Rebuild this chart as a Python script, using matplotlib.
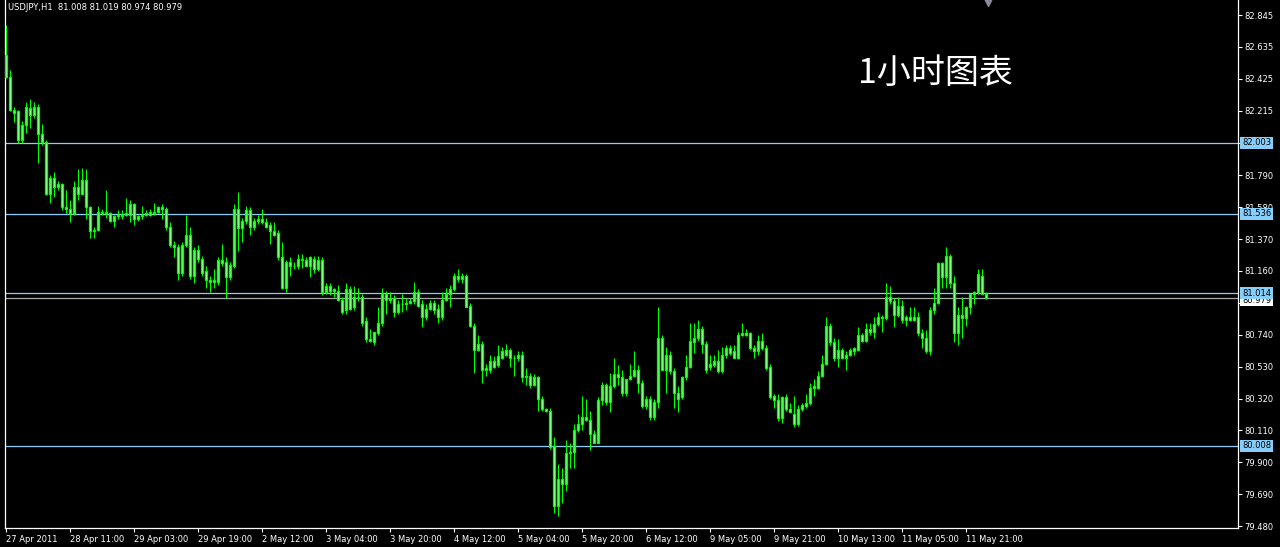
import matplotlib
matplotlib.use("Agg")
import matplotlib.pyplot as plt
import matplotlib.transforms as mtransforms
import numpy as np

# USDJPY H1 candles, 27 Apr 2011 19:00 .. 12 May 2011 02:00
opens = [82.58, 82.44, 82.22, 82.21, 82.02, 82.12, 82.23, 82.19, 82.24, 82.06,
         82.01, 81.67, 81.77, 81.71, 81.73, 81.58, 81.57, 81.54, 81.71, 81.67,
         81.76, 81.58, 81.42, 81.43, 81.55, 81.54, 81.54, 81.49, 81.52, 81.53,
         81.53, 81.53, 81.60, 81.50, 81.52, 81.53, 81.53, 81.54, 81.55, 81.58,
         81.57, 81.45, 81.33, 81.32, 81.15, 81.33, 81.40, 81.13, 81.30, 81.24,
         81.16, 81.10, 81.09, 81.09, 81.23, 81.22, 81.12, 81.19, 81.57, 81.44,
         81.49, 81.56, 81.45, 81.49, 81.50, 81.48, 81.46, 81.42, 81.41, 81.25,
         81.05, 81.22, 81.19, 81.19, 81.24, 81.23, 81.19, 81.24, 81.17, 81.23,
         81.02, 81.06, 81.03, 81.03, 80.97, 80.90, 81.04, 80.92, 80.99, 80.99,
         80.83, 80.71, 80.69, 80.75, 80.82, 81.01, 80.97, 80.98, 80.89, 80.94,
         80.94, 80.95, 80.96, 81.02, 80.94, 80.86, 80.91, 80.95, 80.91, 80.86,
         80.97, 81.01, 81.04, 81.13, 81.11, 81.13, 80.93, 80.80, 80.64, 80.68,
         80.51, 80.51, 80.57, 80.54, 80.59, 80.61, 80.64, 80.59, 80.59, 80.61,
         80.46, 80.47, 80.41, 80.46, 80.32, 80.25, 80.24, 80.01, 79.61, 79.79,
         79.76, 79.96, 79.97, 80.11, 80.15, 80.20, 80.18, 80.09, 80.03, 80.31,
         80.41, 80.30, 80.40, 80.48, 80.46, 80.36, 80.45, 80.47, 80.51, 80.42,
         80.27, 80.32, 80.20, 80.30, 80.72, 80.51, 80.61, 80.50, 80.36, 80.33,
         80.46, 80.53, 80.69, 80.72, 80.78, 80.68, 80.53, 80.54, 80.57, 80.50,
         80.61, 80.65, 80.63, 80.59, 80.74, 80.75, 80.75, 80.65, 80.63, 80.70,
         80.65, 80.53, 80.34, 80.31, 80.19, 80.33, 80.25, 80.22, 80.15, 80.25,
         80.27, 80.29, 80.39, 80.39, 80.47, 80.55, 80.80, 80.69, 80.59, 80.64,
         80.59, 80.61, 80.63, 80.64, 80.74, 80.70, 80.78, 80.76, 80.81, 80.86,
         80.85, 80.99, 80.96, 80.87, 80.93, 80.84, 80.86, 80.84, 80.86, 80.75,
         80.72, 80.63, 80.90, 80.95, 81.21, 81.12, 81.26, 81.08, 80.75, 80.87,
         80.85, 80.92, 81.01, 81.02, 81.13, 81.008]
highs = [82.78, 82.48, 82.24, 82.22, 82.15, 82.27, 82.29, 82.27, 82.26, 82.13,
         82.02, 81.79, 81.81, 81.75, 81.74, 81.69, 81.63, 81.75, 81.83, 81.84,
         81.83, 81.59, 81.45, 81.59, 81.57, 81.69, 81.55, 81.53, 81.56, 81.56,
         81.64, 81.63, 81.61, 81.53, 81.59, 81.56, 81.57, 81.61, 81.59, 81.60,
         81.58, 81.48, 81.36, 81.34, 81.35, 81.53, 81.45, 81.32, 81.33, 81.26,
         81.19, 81.13, 81.17, 81.25, 81.34, 81.25, 81.22, 81.60, 81.68, 81.51,
         81.59, 81.58, 81.51, 81.53, 81.57, 81.51, 81.48, 81.48, 81.43, 81.35,
         81.23, 81.25, 81.22, 81.27, 81.27, 81.25, 81.26, 81.26, 81.26, 81.25,
         81.08, 81.08, 81.05, 81.07, 80.99, 81.08, 81.06, 81.06, 81.05, 81.01,
         80.86, 80.78, 80.76, 80.92, 81.05, 81.03, 81.02, 81.00, 80.97, 81.01,
         80.98, 80.98, 81.09, 81.04, 80.97, 80.94, 80.97, 80.97, 80.94, 81.02,
         81.05, 81.07, 81.15, 81.17, 81.15, 81.14, 80.95, 80.82, 80.74, 80.70,
         80.55, 80.61, 80.60, 80.67, 80.66, 80.68, 80.65, 80.61, 80.63, 80.63,
         80.52, 80.49, 80.48, 80.47, 80.34, 80.26, 80.26, 80.07, 79.89, 79.86,
         80.05, 80.03, 80.15, 80.22, 80.34, 80.32, 80.24, 80.11, 80.33, 80.43,
         80.42, 80.49, 80.59, 80.54, 80.51, 80.45, 80.55, 80.63, 80.54, 80.44,
         80.34, 80.34, 80.32, 80.92, 80.74, 80.66, 80.63, 80.52, 80.40, 80.47,
         80.61, 80.82, 80.82, 80.84, 80.80, 80.70, 80.61, 80.61, 80.64, 80.66,
         80.67, 80.67, 80.67, 80.76, 80.82, 80.78, 80.76, 80.67, 80.74, 80.75,
         80.67, 80.55, 80.35, 80.35, 80.34, 80.35, 80.29, 80.34, 80.28, 80.29,
         80.35, 80.42, 80.45, 80.50, 80.61, 80.86, 80.82, 80.72, 80.71, 80.65,
         80.63, 80.65, 80.66, 80.79, 80.75, 80.82, 80.82, 80.86, 80.89, 80.87,
         81.08, 81.06, 80.98, 80.99, 80.97, 80.87, 80.92, 80.92, 80.89, 80.78,
         80.77, 80.92, 81.05, 81.22, 81.22, 81.32, 81.27, 81.13, 80.92, 80.99,
         80.93, 81.01, 81.03, 81.17, 81.17, 81.019]
lows = [82.43, 82.21, 82.14, 82.00, 82.00, 82.07, 82.10, 82.17, 81.87, 81.99,
        81.66, 81.61, 81.65, 81.69, 81.56, 81.54, 81.48, 81.53, 81.63, 81.66,
        81.50, 81.38, 81.38, 81.42, 81.53, 81.51, 81.48, 81.45, 81.50, 81.50,
        81.52, 81.48, 81.46, 81.49, 81.50, 81.52, 81.52, 81.53, 81.54, 81.50,
        81.43, 81.32, 81.25, 81.10, 81.13, 81.32, 81.11, 81.08, 81.22, 81.13,
        81.05, 81.02, 81.05, 81.07, 81.19, 80.98, 81.10, 81.18, 81.29, 81.35,
        81.47, 81.40, 81.43, 81.47, 81.47, 81.44, 81.34, 81.39, 81.23, 81.04,
        81.02, 81.13, 81.17, 81.17, 81.18, 81.19, 81.12, 81.15, 81.16, 81.00,
        81.01, 81.00, 80.99, 80.96, 80.88, 80.88, 80.90, 80.90, 80.96, 80.80,
        80.69, 80.69, 80.67, 80.74, 80.80, 80.88, 80.95, 80.86, 80.88, 80.89,
        80.90, 80.94, 80.94, 80.92, 80.79, 80.84, 80.90, 80.88, 80.82, 80.84,
        80.96, 80.92, 81.03, 81.09, 81.08, 80.92, 80.79, 80.49, 80.63, 80.42,
        80.47, 80.49, 80.52, 80.53, 80.58, 80.60, 80.53, 80.47, 80.57, 80.43,
        80.41, 80.39, 80.40, 80.24, 80.24, 80.23, 79.99, 79.57, 79.55, 79.63,
        79.71, 79.86, 79.86, 80.10, 80.11, 80.17, 79.98, 80.03, 80.03, 80.28,
        80.28, 80.23, 80.39, 80.41, 80.34, 80.34, 80.44, 80.46, 80.36, 80.26,
        80.25, 80.18, 80.18, 80.26, 80.51, 80.36, 80.48, 80.26, 80.23, 80.32,
        80.44, 80.52, 80.62, 80.70, 80.62, 80.49, 80.51, 80.53, 80.49, 80.49,
        80.59, 80.61, 80.59, 80.58, 80.73, 80.73, 80.64, 80.59, 80.61, 80.64,
        80.51, 80.32, 80.26, 80.17, 80.16, 80.24, 80.23, 80.13, 80.14, 80.24,
        80.26, 80.28, 80.34, 80.38, 80.46, 80.54, 80.67, 80.57, 80.53, 80.59,
        80.51, 80.60, 80.61, 80.63, 80.69, 80.69, 80.74, 80.72, 80.80, 80.76,
        80.84, 80.94, 80.79, 80.86, 80.82, 80.80, 80.83, 80.83, 80.73, 80.65,
        80.62, 80.61, 80.88, 80.94, 81.05, 81.05, 81.05, 80.69, 80.67, 80.72,
        80.80, 80.88, 80.94, 81.01, 81.01, 80.974]
closes = [82.44, 82.22, 82.20, 82.02, 82.12, 82.24, 82.19, 82.24, 82.06, 82.01,
          81.67, 81.77, 81.71, 81.73, 81.58, 81.57, 81.54, 81.71, 81.67, 81.76,
          81.58, 81.42, 81.43, 81.55, 81.54, 81.55, 81.49, 81.52, 81.53, 81.52,
          81.54, 81.60, 81.50, 81.52, 81.53, 81.54, 81.55, 81.55, 81.58, 81.57,
          81.45, 81.33, 81.32, 81.15, 81.33, 81.40, 81.13, 81.30, 81.24, 81.15,
          81.10, 81.09, 81.10, 81.23, 81.21, 81.12, 81.20, 81.57, 81.44, 81.49,
          81.56, 81.45, 81.49, 81.50, 81.48, 81.45, 81.42, 81.40, 81.25, 81.05,
          81.22, 81.19, 81.19, 81.24, 81.23, 81.19, 81.25, 81.17, 81.23, 81.02,
          81.06, 81.03, 81.04, 80.97, 80.89, 81.04, 80.91, 80.99, 80.99, 80.82,
          80.71, 80.70, 80.76, 80.82, 81.01, 80.97, 80.98, 80.89, 80.94, 80.94,
          80.95, 80.96, 81.02, 80.93, 80.86, 80.91, 80.95, 80.90, 80.86, 80.97,
          81.01, 81.04, 81.13, 81.11, 81.13, 80.92, 80.80, 80.64, 80.68, 80.51,
          80.52, 80.57, 80.53, 80.60, 80.63, 80.64, 80.59, 80.59, 80.61, 80.46,
          80.47, 80.41, 80.46, 80.32, 80.25, 80.24, 80.00, 79.61, 79.79, 79.76,
          79.96, 79.97, 80.11, 80.15, 80.20, 80.18, 80.09, 80.03, 80.31, 80.41,
          80.30, 80.40, 80.48, 80.46, 80.36, 80.45, 80.47, 80.51, 80.42, 80.27,
          80.32, 80.20, 80.30, 80.72, 80.51, 80.61, 80.50, 80.36, 80.32, 80.46,
          80.53, 80.70, 80.72, 80.78, 80.68, 80.51, 80.55, 80.57, 80.50, 80.61,
          80.65, 80.62, 80.59, 80.74, 80.75, 80.74, 80.65, 80.63, 80.70, 80.65,
          80.52, 80.33, 80.31, 80.19, 80.33, 80.25, 80.23, 80.15, 80.25, 80.28,
          80.29, 80.39, 80.40, 80.47, 80.55, 80.80, 80.69, 80.59, 80.64, 80.59,
          80.61, 80.64, 80.65, 80.74, 80.70, 80.78, 80.76, 80.81, 80.86, 80.85,
          80.99, 80.96, 80.87, 80.93, 80.84, 80.86, 80.84, 80.86, 80.75, 80.72,
          80.63, 80.90, 80.95, 81.21, 81.12, 81.26, 81.08, 80.75, 80.87, 80.85,
          80.92, 81.01, 81.02, 81.14, 81.01, 80.979]

xtick_labels = ["27 Apr 2011", "28 Apr 11:00", "29 Apr 03:00", "29 Apr 19:00",
                "2 May 12:00", "3 May 04:00", "3 May 20:00", "4 May 12:00",
                "5 May 04:00", "5 May 20:00", "6 May 12:00", "9 May 05:00",
                "9 May 21:00", "10 May 13:00", "11 May 05:00", "11 May 21:00"]
ytick_values = [82.845, 82.635, 82.425, 82.215, 82.005, 81.790, 81.580, 81.370,
                81.160, 80.950, 80.740, 80.530, 80.320, 80.110, 79.900, 79.690, 79.480]
level_lines = [82.003, 81.536, 81.014, 80.008]
bid_price = 80.979

GREEN = "#00ff00"
BLUE = "#87cefa"
FONT = "DejaVu Sans"

o = np.array(opens)
h = np.array(highs)
l = np.array(lows)
c = np.array(closes)
x = np.arange(len(o))

fig = plt.figure(figsize=(12.8, 5.47), dpi=100, facecolor="black")
ax = fig.add_axes([5 / 1280, 19 / 547, 1233 / 1280, 528 / 547])
ax.set_facecolor("black")

# wicks and bodies
ax.vlines(x, l, h, color=GREEN, lw=0.8, zorder=3)
bottoms = np.minimum(o, c)
heights = np.abs(c - o)
fills = np.where(c >= o, "#66ff66", "#a8ffa8")
ax.bar(x, heights, bottom=bottoms, width=0.74, color=fills,
       edgecolor=GREEN, linewidth=0.9, zorder=4)

# level lines and bid line
for p in level_lines:
    ax.axhline(p, color=BLUE, lw=0.9, zorder=2)
ax.axhline(bid_price, color="#a8a8a8", lw=0.9, zorder=2)

ax.set_xlim(-0.25, -0.25 + 1233 / 4)
ax.set_ylim(79.468, 82.944)

# axes / ticks
for side in ["left", "right", "bottom"]:
    ax.spines[side].set_color("white")
    ax.spines[side].set_linewidth(0.9)
ax.spines["top"].set_visible(False)

ax.yaxis.tick_right()
ax.set_yticks(ytick_values)
ax.set_yticklabels([f"{v:.3f}" for v in ytick_values], fontfamily=FONT)
ax.tick_params(axis="y", colors="white", length=3, width=0.8, pad=1.5, labelsize=6)

ax.set_xticks(np.arange(len(xtick_labels)) * 16)
ax.set_xticklabels(xtick_labels, ha="left", fontfamily=FONT)
ax.tick_params(axis="x", colors="white", length=3, width=0.8, pad=2, labelsize=6)

# price labels on the right scale
trans = mtransforms.blended_transform_factory(ax.transAxes, ax.transData)
ax.text(1.0032, bid_price - 0.012, f"{bid_price:.3f}", transform=trans, ha="left",
        va="center", fontsize=6, color="black", fontfamily=FONT, clip_on=False,
        zorder=5, bbox=dict(boxstyle="square,pad=0.2", fc="white", ec="none"))
for p in level_lines:
    ax.text(1.0032, p, f"{p:.3f}", transform=trans, ha="left", va="center",
            fontsize=6, color="black", fontfamily=FONT, clip_on=False, zorder=6,
            bbox=dict(boxstyle="square,pad=0.2", fc=BLUE, ec="none"))

# chart shift marker
ax.plot([245.5], [82.944], marker="v", ms=8, color="#8a8a9a", clip_on=False, zorder=6)

fig.text(8 / 1280, 1 - 7 / 547, "USDJPY,H1  81.008 81.019 80.974 80.979",
         color="white", fontsize=6, va="center", ha="left", fontfamily=FONT)
fig.text(858 / 1280, 1 - 73 / 547, "1小时图表", color="white", fontsize=24.5,
         va="center", ha="left", family=["Noto Sans CJK SC", "DejaVu Sans"])

fig.savefig("out.png", dpi=100, facecolor="black")
